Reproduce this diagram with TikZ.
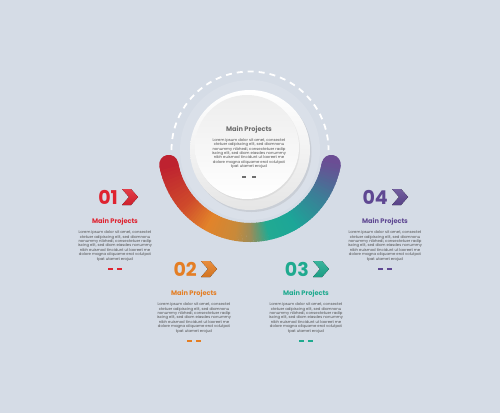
\documentclass[tikz,border=0pt]{standalone}
\usepackage{fontspec}
\setmainfont{Poppins}
\usetikzlibrary{positioning,shadows}
\definecolor{bgcol}{HTML}{D5DCE6}
\definecolor{ringcol}{HTML}{DAE0E9}
\definecolor{cred}{HTML}{DF2330}
\definecolor{corange}{HTML}{E47E24}
\definecolor{cteal}{HTML}{1FAA8F}
\definecolor{cpurple}{HTML}{5F4892}
\definecolor{textgray}{HTML}{505050}
\definecolor{titlegray}{HTML}{6E6E6E}
% stops of the coloured band
\definecolor{arcA}{HTML}{BE2230}
\definecolor{arcB}{HTML}{CF4A2B}
\definecolor{arcC}{HTML}{E2832A}
\definecolor{arcD}{HTML}{C88A3A}
\definecolor{arcE}{HTML}{9C8C58}
\definecolor{arcF}{HTML}{22AA92}
\definecolor{arcG}{HTML}{1CA698}
\definecolor{arcH}{HTML}{3C7E97}
\definecolor{arcI}{HTML}{6B4D94}
\newcommand{\loremtext}{Lorem ipsum dolor sit amet, consectet\\ ctetuer adipiscing elit, sed diamnonu\\ nonummy nibhedi, consectetuer radip\\ iscing elit, sed diam eiasdes nonummy\\ nibh euismod tincidunt ut laoreet me\\ dolore magna aliquame erat volutpat\\ tpat utamet erojud}
\tikzset{
  bodytext/.style={align=center, text=textgray, inner sep=0pt, font=\fontsize{3.8}{4.35}\selectfont},
  headtext/.style={inner sep=0pt, font=\fontsize{6.6}{7}\selectfont\bfseries},
  numtext/.style={anchor=east, inner sep=0pt, font=\fontsize{19}{19}\selectfont\bfseries},
}
\begin{document}
\begin{tikzpicture}[x=1pt, y=-1pt, line join=round]
\fill[bgcol] (0,0) rectangle (500,413);
\useasboundingbox (0,0) rectangle (500,413);
\path
(250,150) coordinate (O);
% light ring and dashed arc
\fill[ringcol] (O) circle (70);
\draw[white, line width=1.8pt, dash pattern=on 6pt off 5pt]
([shift=(180:78.5)]O) arc[start angle=180, end angle=360, radius=78.5];
% coloured band
\draw[arcA, line width=19pt, line cap=round]
([shift=(170:82.5)]O) arc[start angle=170, end angle=165, radius=82.5];
\draw[arcI, line width=19pt, line cap=round]
([shift=(15:82.5)]O) arc[start angle=15, end angle=10, radius=82.5];
\foreach \sa/\ea/\ca/\cb in {170/140/arcA/arcB, 140/120/arcB/arcC, 120/100/arcC/arcD, 100/90/arcD/arcE, 90/78/arcE/arcF, 78/60/arcF/arcG, 60/35/arcG/arcH, 35/10/arcH/arcI}
\foreach \k in {0,...,11} {
  \pgfmathtruncatemacro\p{100-\k*100/12}
  \pgfmathsetmacro\aa{\sa+(\ea-\sa)*\k/12}
  \pgfmathsetmacro\ab{\sa+(\ea-\sa)*(\k+1.4)/12}
  \draw[\ca!\p!\cb, line width=19pt]
  ([shift=(\aa:82.5)]O) arc[start angle=\aa, end angle=\ab, radius=82.5];
}
% white disc
\path[top color=white, bottom color=black!10, drop shadow={shadow xshift=1.5pt, shadow yshift=-2pt, opacity=0.18}]
(O) circle (60);
\path[top color=black!7, bottom color=white, drop shadow={shadow xshift=1pt, shadow yshift=-1.5pt, opacity=0.12}]
(247,147) circle (52);
\node[headtext, text=titlegray] (ctitle) at (249,130) {Main Projects};
\node[bodytext] (cbody) at (249,153.5) {\loremtext};
\draw[titlegray, line width=1.5pt] (242,177) -- (246,177) (252,177) -- (256,177);
% four steps
\foreach \i/\cx/\cy/\col in {1/115/197/cred, 2/194/269/corange, 3/306/269/cteal, 4/385/197/cpurple} {
  \node[numtext, text=\col] (n\i) at ({\cx+3},\cy) {0\i};
  \fill[top color=\col!88!white, bottom color=\col!92!black]
  ({\cx+7},{\cy-8}) -- ++(9,0) -- ++(7,8) -- ++(-7,8) -- ++(-9,0) -- ++(7,-8) -- cycle;
  \node[headtext, text=\col] (t\i) at (\cx,{\cy+25}) {Main Projects};
  \node[bodytext] (b\i) at (\cx,{\cy+49}) {\loremtext};
  \draw[\col, line width=1.5pt] ({\cx-7},{\cy+72}) -- ({\cx-2},{\cy+72}) ({\cx+2},{\cy+72}) -- ({\cx+7},{\cy+72});
}
\end{tikzpicture}
\end{document}
